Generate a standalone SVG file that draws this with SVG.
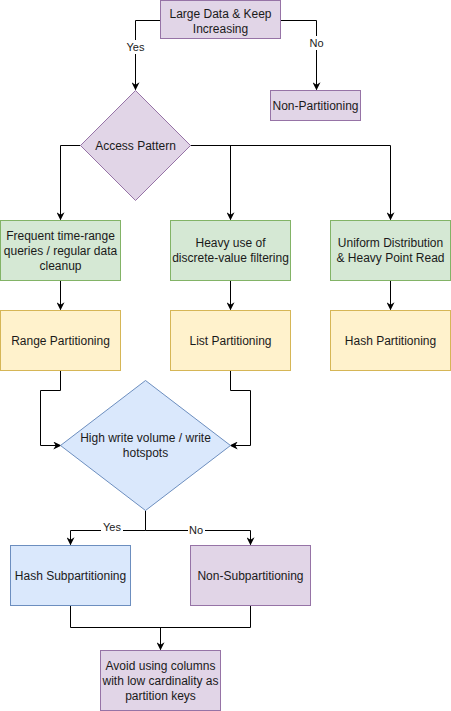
<svg xmlns="http://www.w3.org/2000/svg" width="451" height="711" viewBox="0 0 451 711">
<style>
text{font-family:"Liberation Sans",Arial,Helvetica,sans-serif;font-size:12px;fill:#1a1a1a;text-anchor:middle}
.lbl{font-size:11px}
.purple{fill:#e1d5e7;stroke:#9673a6}
.green{fill:#d5e8d4;stroke:#82b366}
.yellow{fill:#fff2cc;stroke:#d6b656}
.blue{fill:#dae8fc;stroke:#6c8ebf}
.edge{fill:none;stroke:#000;stroke-width:1}
</style>
<defs>
<marker id="arr" viewBox="0 0 10 10" refX="9" refY="5" markerWidth="8" markerHeight="8" markerUnits="userSpaceOnUse" orient="auto">
<path d="M0,0 L10,5 L0,10 L3,5 Z" fill="#000"/>
</marker>
</defs>
<rect width="451" height="711" fill="#fff"/>
<g id="connectors">
<path class="edge" d="M160.5,20.5 H135.5 V89.5" marker-end="url(#arr)"/>
<path class="edge" d="M280.5,20.5 H316.5 V89.5" marker-end="url(#arr)"/>
<path class="edge" d="M80.5,145.5 H60.5 V219.5" marker-end="url(#arr)"/>
<path class="edge" d="M190.5,145.5 H390.5 V219.5" marker-end="url(#arr)"/>
<path class="edge" d="M230.5,145.5 V219.5" marker-end="url(#arr)"/>
<path class="edge" d="M60.5,280.5 V309.5" marker-end="url(#arr)"/>
<path class="edge" d="M230.5,280.5 V309.5" marker-end="url(#arr)"/>
<path class="edge" d="M390.5,280.5 V309.5" marker-end="url(#arr)"/>
<path class="edge" d="M60.5,370.5 V390.5 H40.5 V445.5 H60.5" marker-end="url(#arr)"/>
<path class="edge" d="M230.5,370.5 V390.5 H250.5 V445.5 H230.5" marker-end="url(#arr)"/>
<path class="edge" d="M145.5,510.5 V530.5 H70.5 V544.5" marker-end="url(#arr)"/>
<path class="edge" d="M145.5,530.5 H250.5 V544.5" marker-end="url(#arr)"/>
<path class="edge" d="M70.5,605.5 V627.5 H250.5 V605.5"/>
<path class="edge" d="M160.5,627.5 V649.5" marker-end="url(#arr)"/>
<rect x="124" y="40" width="23" height="14" fill="#fff"/>
<text class="lbl" x="135.5" y="51">Yes</text>
<rect x="307" y="36" width="18" height="14" fill="#fff"/>
<text class="lbl" x="316.5" y="47">No</text>
<rect x="101" y="520" width="22" height="13" fill="#fff"/>
<text class="lbl" x="112" y="531">Yes</text>
<rect x="188" y="523" width="17" height="13" fill="#fff"/>
<text class="lbl" x="196" y="534">No</text>
</g>
<g id="large-data">
<rect class="purple" x="160.5" y="0.5" width="120" height="38"/>
<text x="220.5" y="17.5">Large Data &amp; Keep</text>
<text x="220.5" y="32.5">Increasing</text>
</g>
<g id="non-partitioning">
<rect class="purple" x="270.5" y="90.5" width="90" height="30"/>
<text x="315.5" y="109.5">Non-Partitioning</text>
</g>
<g id="access-pattern">
<path class="purple" d="M135.5,90.5 L190.5,145.5 L135.5,200.5 L80.5,145.5 Z"/>
<text x="135.5" y="149.5">Access Pattern</text>
</g>
<g id="time-range">
<rect class="green" x="0.5" y="220.5" width="120" height="60"/>
<text x="60.5" y="239.5">Frequent time-range</text>
<text x="60.5" y="254.5">queries / regular data</text>
<text x="60.5" y="269.5">cleanup</text>
</g>
<g id="discrete">
<rect class="green" x="170.5" y="220.5" width="120" height="60"/>
<text x="230.5" y="246.5">Heavy use of</text>
<text x="230.5" y="261.5">discrete-value filtering</text>
</g>
<g id="uniform">
<rect class="green" x="330.5" y="220.5" width="120" height="60"/>
<text x="390.5" y="246.5">Uniform Distribution</text>
<text x="390.5" y="261.5">&amp; Heavy Point Read</text>
</g>
<g id="range">
<rect class="yellow" x="0.5" y="310.5" width="120" height="60"/>
<text x="60.5" y="344.5">Range Partitioning</text>
</g>
<g id="list">
<rect class="yellow" x="170.5" y="310.5" width="120" height="60"/>
<text x="230.5" y="344.5">List Partitioning</text>
</g>
<g id="hash">
<rect class="yellow" x="330.5" y="310.5" width="120" height="60"/>
<text x="390.5" y="344.5">Hash Partitioning</text>
</g>
<g id="high-write">
<path class="blue" d="M145.5,380.5 L230.5,445.5 L145.5,510.5 L60.5,445.5 Z"/>
<text x="145.5" y="442">High write volume / write</text>
<text x="145.5" y="457">hotspots</text>
</g>
<g id="hash-sub">
<rect class="blue" x="10.5" y="545.5" width="120" height="60"/>
<text x="70.5" y="579.5">Hash Subpartitioning</text>
</g>
<g id="non-sub">
<rect class="purple" x="190.5" y="545.5" width="120" height="60"/>
<text x="250.5" y="579.5">Non-Subpartitioning</text>
</g>
<g id="avoid">
<rect class="purple" x="100.5" y="650.5" width="120" height="60"/>
<text x="160.5" y="669.5">Avoid using columns</text>
<text x="160.5" y="684.5">with low cardinality as</text>
<text x="160.5" y="699.5">partition keys</text>
</g>
</svg>
